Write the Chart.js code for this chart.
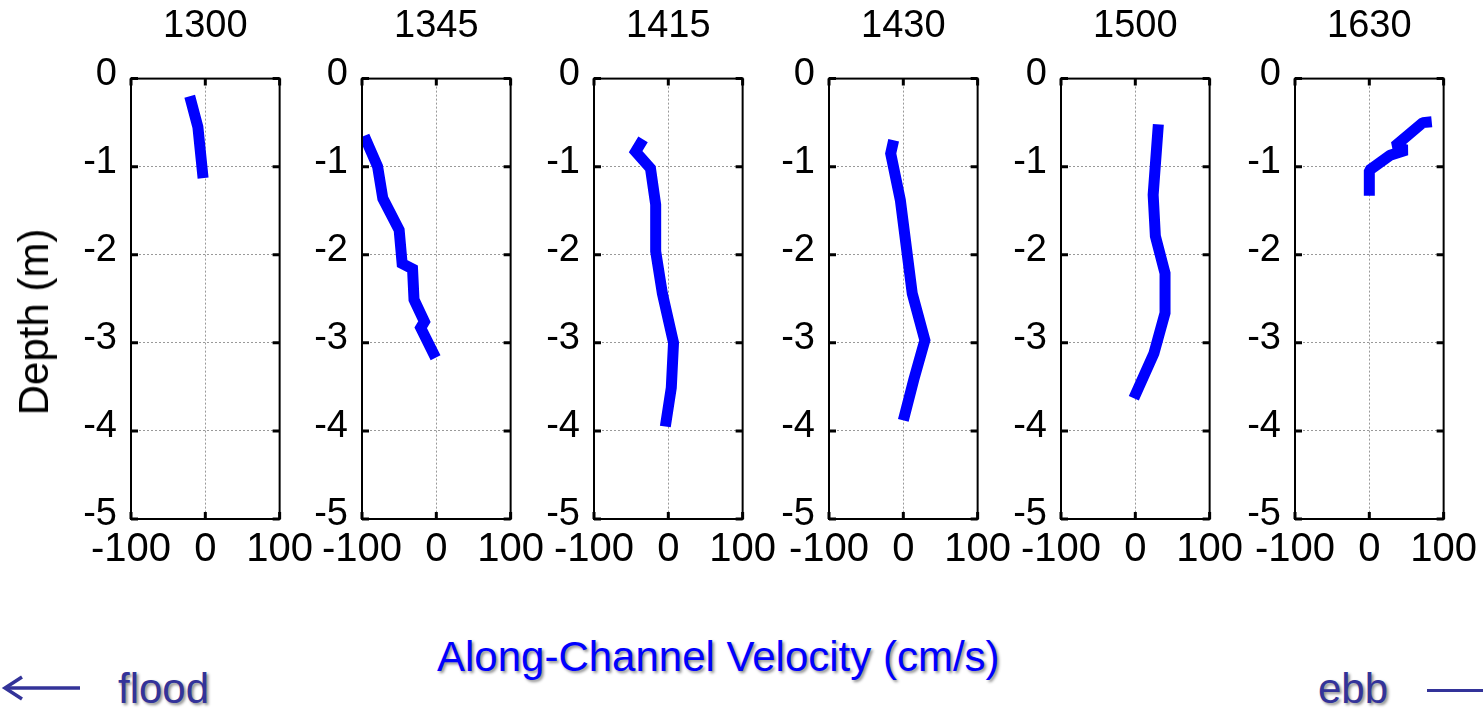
<!DOCTYPE html>
<html>
<head>
<meta charset="utf-8">
<script src="https://cdn.jsdelivr.net/npm/chart.js@4/dist/chart.umd.min.js"></script>
<style>
  body { margin: 0; background: #fff; width: 1483px; height: 714px; overflow: hidden; position: relative; font-family: "Liberation Sans", Arial, sans-serif; }
  canvas { position: absolute; top: 0; }
  .lbl { position: absolute; font-size: 42px; line-height: 1; white-space: nowrap; text-shadow: 2px 2px 3px rgba(0,0,0,0.45); }
  #ylab { position: absolute; left: 34px; top: 322px; font-size: 42px; line-height: 1; white-space: nowrap; color: #000;
          transform: translate(-50%, -50%) rotate(-90deg); }
</style>
</head>
<body>
<canvas id="c0"></canvas>
<canvas id="c1"></canvas>
<canvas id="c2"></canvas>
<canvas id="c3"></canvas>
<canvas id="c4"></canvas>
<canvas id="c5"></canvas>

<div id="ylab">Depth (m)</div>
<div class="lbl" style="left:437px; top:636px; color:#0000ff;">Along-Channel Velocity (cm/s)</div>
<div class="lbl" style="left:118px; top:668px; color:#333399;">flood</div>
<div class="lbl" style="left:1318px; top:668px; color:#333399;">ebb</div>
<svg style="position:absolute; left:0; top:670px;" width="90" height="40">
  <polyline points="22,7 5,18 22,29" fill="none" stroke="#333399" stroke-width="3.5"/>
  <line x1="6" y1="18" x2="80" y2="18" stroke="#333399" stroke-width="3.5"/>
</svg>
<div style="position:absolute; left:1427px; top:689px; width:56px; height:3px; background:#333399;"></div>

<script>
// profile times
const panelTitles = ["1300", "1345", "1415", "1430", "1500", "1630"];

// velocity (cm/s) and depth (m) per profile
const vel1300 = [-21, -10, -3];
const depth1300 = [-0.2, -0.55, -1.13];

const vel1345 = [-97, -79, -72, -50, -46, -32, -30, -16, -21, -1];
const depth1345 = [-0.65, -1.0, -1.36, -1.72, -2.1, -2.16, -2.51, -2.76, -2.83, -3.17];

const vel1415 = [-34, -44, -24, -17, -17, -8, 7, 4, -4];
const depth1415 = [-0.69, -0.83, -1.02, -1.43, -1.96, -2.44, -3.0, -3.51, -3.95];

const vel1430 = [-13, -17, -4, 12, 29, 14, 0];
const depth1430 = [-0.7, -0.85, -1.38, -2.44, -2.97, -3.42, -3.88];

const vel1500 = [31, 24, 27, 40, 40, 25, -2];
const depth1500 = [-0.52, -1.32, -1.79, -2.21, -2.66, -3.12, -3.63];

const vel1630 = [84, 72, 34, 50, 28, 0, 0];
const depth1630 = [-0.49, -0.5, -0.77, -0.81, -0.87, -1.04, -1.33];

const xTicks = [-100, 0, 100];
const yTicks = [0, -1, -2, -3, -4, -5];

const profiles = [
    [vel1300, depth1300],
    [vel1345, depth1345],
    [vel1415, depth1415],
    [vel1430, depth1430],
    [vel1500, depth1500],
    [vel1630, depth1630],
];

// left edge of each plot box on the page
const plotLefts = [131, 362, 594, 829, 1061, 1295];
const plotW = 149;
const canvasH = 600;
const fontFam = "'Liberation Sans', Helvetica, Arial, sans-serif";

// black box with small inward ticks, like matlab axes
const framePlugin = {
    id: "frame",
    afterDraw(chart) {
        const { ctx, chartArea: a, scales } = chart;
        ctx.save();
        ctx.strokeStyle = "#000";
        ctx.lineWidth = 2;
        ctx.strokeRect(a.left, a.top, a.right - a.left, a.bottom - a.top);
        ctx.lineWidth = 3;
        const tl = 7;
        ctx.beginPath();
        scales.y.ticks.forEach(t => {
            const py = scales.y.getPixelForValue(t.value);
            ctx.moveTo(a.left, py); ctx.lineTo(a.left + tl, py);
            ctx.moveTo(a.right, py); ctx.lineTo(a.right - tl, py);
        });
        scales.x.ticks.forEach(t => {
            const px = scales.x.getPixelForValue(t.value);
            ctx.moveTo(px, a.top); ctx.lineTo(px, a.top + tl);
            ctx.moveTo(px, a.bottom); ctx.lineTo(px, a.bottom - tl);
        });
        ctx.stroke();
        ctx.restore();
    },
};

profiles.forEach((p, i) => {
    const [vel, depth] = p;
    const canvas = document.getElementById("c" + i);
    const yW = i === 0 ? plotLefts[0] : 70;
    const left = plotLefts[i] - yW;
    const w = yW + plotW + 40;
    canvas.width = w;
    canvas.height = canvasH;
    canvas.style.left = left + "px";
    canvas.style.width = w + "px";
    canvas.style.height = canvasH + "px";

    new Chart(canvas, {
        type: "line",
        data: {
            datasets: [{
                data: vel.map((v, k) => ({ x: v, y: depth[k] })),
                borderColor: "#0000ff",
                borderWidth: 11,
                borderJoinStyle: i === 5 ? "bevel" : "miter",
                borderCapStyle: "butt",
                pointRadius: 0,
                tension: 0,
                fill: false,
            }],
        },
        options: {
            responsive: false,
            animation: false,
            devicePixelRatio: 1,
            layout: { padding: { left: 0, right: 40, top: 0, bottom: 0 } },
            plugins: {
                legend: { display: false },
                tooltip: { enabled: false },
                title: {
                    display: true,
                    fullSize: false,
                    text: panelTitles[i],
                    color: "#000",
                    font: { family: fontFam, size: 38, weight: "normal", lineHeight: 1.2 },
                    padding: { top: 4, bottom: 29 },
                },
            },
            scales: {
                x: {
                    type: "linear",
                    min: -100,
                    max: 100,
                    afterBuildTicks: s => { s.ticks = xTicks.map(v => ({ value: v })); },
                    afterFit: s => { s.height = canvasH - 519; },
                    ticks: {
                        color: "#000", padding: 7, maxRotation: 0, minRotation: 0,
                        autoSkip: false, font: { family: fontFam, size: 40 },
                    },
                    grid: { color: "#999", lineWidth: 1, drawTicks: false },
                    border: { display: false, dash: [2, 2] },
                },
                y: {
                    type: "linear",
                    min: -5,
                    max: 0,
                    afterBuildTicks: s => { s.ticks = yTicks.map(v => ({ value: v })); },
                    afterFit: s => { s.width = yW; },
                    ticks: { color: "#000", padding: 14, labelOffset: -4, font: { family: fontFam, size: 38 } },
                    grid: { color: "#999", lineWidth: 1, drawTicks: false },
                    border: { display: false, dash: [2, 2] },
                },
            },
        },
        plugins: [framePlugin],
    });
});
</script>
</body>
</html>
